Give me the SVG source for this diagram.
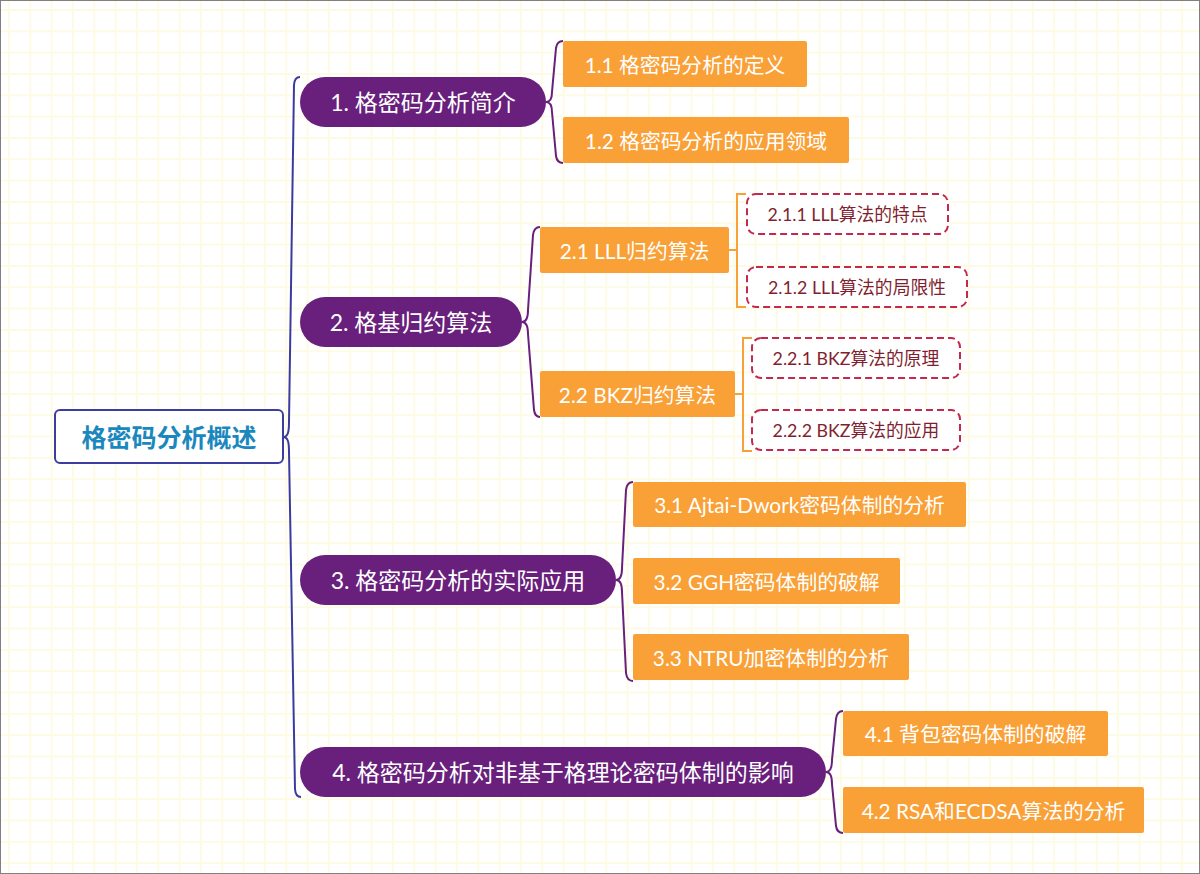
<svg xmlns="http://www.w3.org/2000/svg" width="1200" height="874" viewBox="0 0 1200 874">
<defs>
<pattern id="grid" x="8" y="9" width="21.33" height="21.33" patternUnits="userSpaceOnUse">
<path d="M0,1 H21.33 M1,0 V21.33" stroke="#fdfbe3" stroke-width="2" fill="none"/>
</pattern>
<style>
text{font-family:"Lato","Noto Sans CJK SC",sans-serif;text-anchor:middle;dominant-baseline:central}
.root rect{fill:#fff;stroke:#3d3da0;stroke-width:2}
.root text{fill:#1b88bd;font-size:25px;font-weight:bold}
.l1 rect{fill:#68207c}
.l1 text{fill:#fff;font-size:23px}
.l2 rect{fill:#f9a037}
.l2 text{fill:#fff;font-size:20.8px}
.l3 rect{fill:#fff;stroke:#c3294f;stroke-width:2;stroke-dasharray:7 4}
.l3 text{fill:#7f1f2f;font-size:17.8px}
.cm{fill:none;stroke:#3b3b9e;stroke-width:2}
.cp{fill:none;stroke:#68207c;stroke-width:2}
.co{fill:none;stroke:#f9a037;stroke-width:2}
</style>
</defs>
<rect x="0" y="0" width="1200" height="874" fill="#fff"/>
<rect x="0" y="0" width="1200" height="874" fill="url(#grid)"/>
<rect x="0.5" y="0.5" width="1199" height="873" fill="none" stroke="#808080" stroke-width="1"/>

<g id="connectors">
<path class="cm" d="M283,437 C288,437 289,432 289,422 L294,85 Q294.5,77 300,77 M283,437 C288,437 289,442 289,452 L295,789 Q295.5,797 301,797"/>
<path class="cp" d="M546,102 C551,102 552,98 552,92 L556,48 Q557,41 563,41 M546,102 C551,102 552,106 552,112 L556,156 Q557,163 563,163"/>
<path class="cp" d="M522,322 C527,322 528,317 528,310 L533,235 Q534,227 540,227 M522,322 C527,322 528,327 528,334 L534,410 Q535,417 540,417"/>
<path class="cp" d="M616,580 C621,580 622,575 622,568 L626,490 Q627,482 633,482 M616,580 C621,580 622,585 622,592 L626,673 Q627,681 633,681"/>
<path class="cp" d="M826,772 C831,772 832,767 832,760 L836,719 Q837,711 843,711 M826,772 C831,772 832,777 832,784 L836,826 Q837,833 843,833"/>
<path class="co" d="M729,250 H737 M746,194 H737 V307 H746"/>
<path class="co" d="M735,394 H743 M752,338 H743 V451 H752"/>
</g>

<g id="root" class="root"><rect x="55" y="410" width="228" height="53" rx="5"/><text x="169" y="437">格密码分析概述</text></g>

<g id="n1" class="l1"><rect x="300" y="77" width="246" height="50" rx="25"/><text x="423" y="102">1. 格密码分析简介</text></g>
<g id="n2" class="l1"><rect x="300" y="297" width="222" height="50" rx="25"/><text x="411" y="322">2. 格基归约算法</text></g>
<g id="n3" class="l1"><rect x="300" y="555" width="316" height="50" rx="25"/><text x="458" y="580">3. 格密码分析的实际应用</text></g>
<g id="n4" class="l1"><rect x="300" y="747" width="526" height="50" rx="25"/><text x="563" y="772">4. 格密码分析对非基于格理论密码体制的影响</text></g>

<g id="n1-1" class="l2"><rect x="563" y="41" width="244" height="46" rx="2"/><text x="685" y="64">1.1 格密码分析的定义</text></g>
<g id="n1-2" class="l2"><rect x="563" y="117" width="286" height="46" rx="2"/><text x="706" y="140">1.2 格密码分析的应用领域</text></g>
<g id="n2-1" class="l2"><rect x="540" y="227" width="189" height="46" rx="2"/><text x="634.5" y="250">2.1 LLL归约算法</text></g>
<g id="n2-2" class="l2"><rect x="540" y="371" width="195" height="46" rx="2"/><text x="637.5" y="394">2.2 BKZ归约算法</text></g>
<g id="n3-1" class="l2"><rect x="633" y="482" width="333" height="45" rx="2"/><text x="799.5" y="504.5">3.1 Ajtai-Dwork密码体制的分析</text></g>
<g id="n3-2" class="l2"><rect x="633" y="558" width="267" height="46" rx="2"/><text x="766.5" y="581">3.2 GGH密码体制的破解</text></g>
<g id="n3-3" class="l2"><rect x="633" y="634" width="276" height="46" rx="2"/><text x="771" y="657">3.3 NTRU加密体制的分析</text></g>
<g id="n4-1" class="l2"><rect x="843" y="711" width="265" height="45" rx="2"/><text x="975.5" y="733.5">4.1 背包密码体制的破解</text></g>
<g id="n4-2" class="l2"><rect x="843" y="787" width="301" height="46" rx="2"/><text x="993.5" y="810">4.2 RSA和ECDSA算法的分析</text></g>

<g id="n2-1-1" class="l3"><rect x="747" y="194" width="201" height="40" rx="9"/><text x="847.5" y="214">2.1.1 LLL算法的特点</text></g>
<g id="n2-1-2" class="l3"><rect x="747" y="267" width="220" height="40" rx="9"/><text x="857" y="287">2.1.2 LLL算法的局限性</text></g>
<g id="n2-2-1" class="l3"><rect x="752" y="338" width="208" height="40" rx="9"/><text x="856" y="358">2.2.1 BKZ算法的原理</text></g>
<g id="n2-2-2" class="l3"><rect x="752" y="410" width="208" height="40" rx="9"/><text x="856" y="430">2.2.2 BKZ算法的应用</text></g>
</svg>
